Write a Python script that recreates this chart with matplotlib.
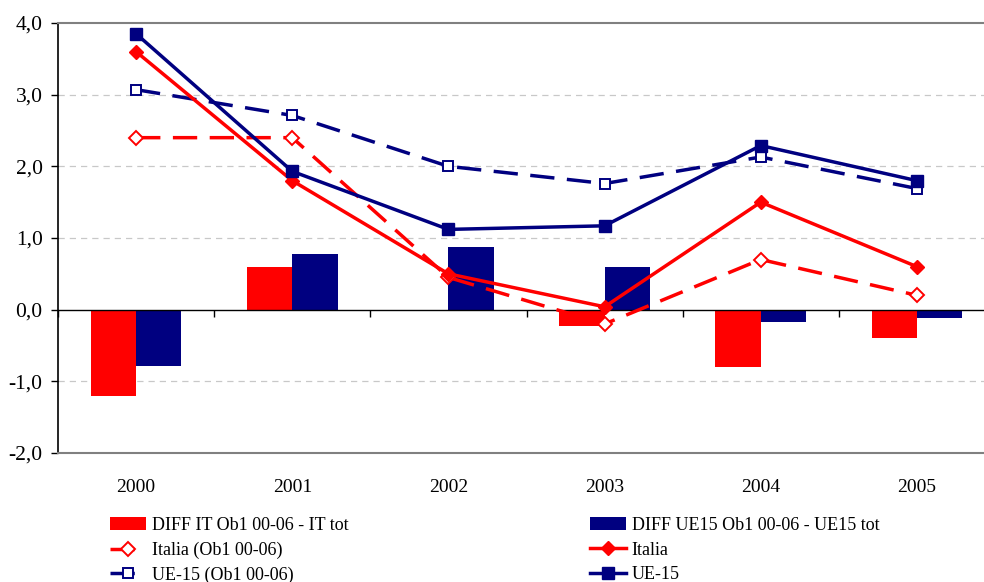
import matplotlib
matplotlib.use("Agg")
import matplotlib.pyplot as plt
import numpy as np

years = ["2000", "2001", "2002", "2003", "2004", "2005"]
diff_it = [-1.2, 0.6, 0.0, -0.23, -0.8, -0.4]
diff_ue15 = [-0.78, 0.77, 0.88, 0.59, -0.17, -0.11]
italia_ob1 = [2.4, 2.4, 0.45, -0.2, 0.7, 0.2]
italia = [3.6, 1.8, 0.5, 0.04, 1.5, 0.6]
ue15_ob1 = [3.07, 2.71, 2.0, 1.76, 2.13, 1.69]
ue15 = [3.85, 1.93, 1.12, 1.17, 2.29, 1.8]
yticks = [-2, -1, 0, 1, 2, 3, 4]

RED = "#FF0000"
NAVY = "#000080"

plt.rcParams["font.family"] = ["Liberation Serif", "DejaVu Serif"]

fig = plt.figure(figsize=(9.84, 5.82), dpi=100)
ax = fig.add_axes([58 / 984, 1 - 453 / 582, 937 / 984, 430 / 582])

x = np.arange(len(years))
bw = 0.29
ax.bar(x - bw / 2, diff_it, bw, color=RED, zorder=2, label="DIFF IT Ob1 00-06 - IT tot")
ax.bar(x + bw / 2, diff_ue15, bw, color=NAVY, zorder=2, label="DIFF UE15 Ob1 00-06 - UE15 tot")

dash = (0, (7.0, 3.6))
lw = 2.5
l_it_ob1, = ax.plot(x, italia_ob1, color=RED, lw=lw, linestyle=dash, marker="D",
                    markersize=7, markerfacecolor="white", markeredgecolor=RED,
                    markeredgewidth=1.4, zorder=3, label="Italia (Ob1 00-06)")
l_it, = ax.plot(x, italia, color=RED, lw=lw, marker="D", markersize=7,
                markerfacecolor=RED, markeredgecolor=RED, zorder=4, label="Italia")
l_ue_ob1, = ax.plot(x, ue15_ob1, color=NAVY, lw=lw, linestyle=dash, marker="s",
                    markersize=7, markerfacecolor="white", markeredgecolor=NAVY,
                    markeredgewidth=1.4, zorder=3, label="UE-15 (Ob1 00-06)")
l_ue, = ax.plot(x, ue15, color=NAVY, lw=lw, marker="s", markersize=8,
                markerfacecolor=NAVY, markeredgecolor=NAVY, zorder=4, label="UE-15")

ax.set_xlim(-0.5, len(years) - 0.5)
ax.set_ylim(-2, 4)
ax.set_yticks(yticks)
ax.set_yticklabels([f"{v:.1f}".replace(".", ",") for v in yticks], fontsize=15.5)
for v in yticks[1:-1]:
    if v != 0:
        ax.axhline(v, color="#C8C8C8", lw=0.9, linestyle=(0, (5, 4)), zorder=0)
ax.axhline(0, color="black", lw=1.0, zorder=2.5)

ax.set_xticks(x)
ax.set_xticklabels(years, fontsize=14)
ax.tick_params(axis="x", length=0, pad=19)
ax.tick_params(axis="y", length=5, width=1, color="black", direction="out", pad=6)

ax.spines["left"].set_color("black")
ax.spines["left"].set_linewidth(1.2)
ax.spines["right"].set_visible(False)
ax.spines["top"].set_color("#808080")
ax.spines["top"].set_linewidth(1.5)
ax.spines["bottom"].set_color("#808080")
ax.spines["bottom"].set_linewidth(1.5)

# category separators along the zero line
sec = ax.secondary_xaxis(1 / 3)
sec.set_xticks(np.arange(len(years) + 1) - 0.5)
sec.set_xticklabels([])
sec.tick_params(length=5, width=1, color="black", direction="out")
sec.spines["bottom"].set_visible(False)
sec.spines["top"].set_visible(False)

bars = ax.containers
common = dict(loc="upper left", frameon=False, fontsize=13, handlelength=2.0,
              handletextpad=0.3, labelspacing=0.42, borderpad=0)
leg1 = fig.legend([bars[0], l_it_ob1, l_ue_ob1],
                  ["DIFF IT Ob1 00-06 - IT tot", "Italia (Ob1 00-06)", "UE-15 (Ob1 00-06)"],
                  bbox_to_anchor=(101 / 984, 1 - 508 / 582), **common)
leg2 = fig.legend([bars[1], l_it, l_ue],
                  ["DIFF UE15 Ob1 00-06 - UE15 tot", "Italia", "UE-15"],
                  bbox_to_anchor=(581 / 984, 1 - 508 / 582), **common)

fig.savefig("out.png", dpi=100)
